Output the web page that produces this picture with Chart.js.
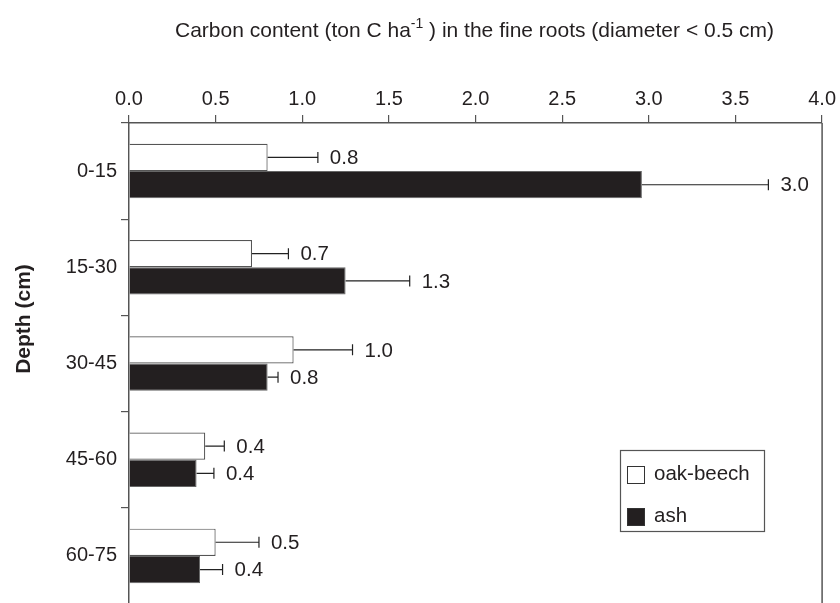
<!DOCTYPE html>
<html>
<head>
<meta charset="utf-8">
<script src="https://cdn.jsdelivr.net/npm/chart.js@4/dist/chart.umd.min.js"></script>
<style>
html,body{margin:0;padding:0;background:#fff;overflow:hidden;}
#c{display:block;}
</style>
</head>
<body>
<canvas id="c" width="840" height="620"></canvas>
<script>
// ---- data ----
const depths = ['0-15', '15-30', '30-45', '45-60', '60-75'];
const seriesNames = ['oak-beech', 'ash'];
const oakBeech = [0.80, 0.71, 0.95, 0.44, 0.50];
const ash = [2.96, 1.25, 0.80, 0.39, 0.41];
const oakBeechErr = [0.29, 0.21, 0.34, 0.11, 0.25];
const ashErr = [0.73, 0.37, 0.06, 0.10, 0.13];
const oakBeechLabels = ['0.8', '0.7', '1.0', '0.4', '0.5'];
const ashLabels = ['3.0', '1.3', '0.8', '0.4', '0.4'];
const xTicks = [0, 0.5, 1.0, 1.5, 2.0, 2.5, 3.0, 3.5, 4.0];
const titleMain = 'Carbon content (ton C ha';
const titleSup = '-1';
const titleRest = ' ) in the fine roots (diameter < 0.5 cm)';
const yTitle = 'Depth (cm)';

const FAM = '"Liberation Sans", Arial, Helvetica, sans-serif';
const INK = '#231f20';
const LINE = '#555';

const errs = [oakBeechErr, ashErr];
const valLabels = [oakBeechLabels, ashLabels];

const extras = {
  id: 'extras',
  afterDatasetsDraw(chart) {
    const ctx = chart.ctx;
    const xs = chart.scales.x;
    ctx.save();
    chart.data.datasets.forEach((ds, di) => {
      const meta = chart.getDatasetMeta(di);
      meta.data.forEach((el, i) => {
        const x0 = el.x;
        const x1 = xs.getPixelForValue(ds.data[i] + errs[di][i]);
        const y = el.y;
        ctx.strokeStyle = '#222';
        ctx.lineWidth = 1.2;
        ctx.beginPath();
        ctx.moveTo(x0, y); ctx.lineTo(x1, y);
        ctx.moveTo(x1, y - 5.5); ctx.lineTo(x1, y + 5.5);
        ctx.stroke();
        ctx.fillStyle = INK;
        ctx.font = '20.5px ' + FAM;
        ctx.textAlign = 'left';
        ctx.textBaseline = 'middle';
        ctx.fillText(valLabels[di][i], x1 + 12, y + 1);
      });
    });
    ctx.restore();
  },
  afterDraw(chart) {
    const ctx = chart.ctx;
    const a = chart.chartArea;
    ctx.save();
    // right frame line
    ctx.strokeStyle = LINE;
    ctx.lineWidth = 1.5;
    ctx.beginPath();
    ctx.moveTo(a.right, a.top);
    ctx.lineTo(a.right, a.bottom);
    ctx.stroke();

    // top title with superscript
    ctx.fillStyle = INK;
    ctx.textBaseline = 'alphabetic';
    ctx.textAlign = 'left';
    ctx.font = '21px ' + FAM;
    const w1 = ctx.measureText(titleMain).width;
    const w3 = ctx.measureText(titleRest).width;
    ctx.font = '14px ' + FAM;
    const w2 = ctx.measureText(titleSup).width;
    const total = w1 + w2 + w3;
    let tx = 474.5 - total / 2;
    const ty = 37;
    ctx.font = '21px ' + FAM;
    ctx.fillText(titleMain, tx, ty);
    ctx.font = '14px ' + FAM;
    ctx.fillText(titleSup, tx + w1, ty - 9);
    ctx.font = '21px ' + FAM;
    ctx.fillText(titleRest, tx + w1 + w2, ty);

    // y axis title
    ctx.save();
    ctx.translate(30, 319);
    ctx.rotate(-Math.PI / 2);
    ctx.font = 'bold 21px ' + FAM;
    ctx.textAlign = 'center';
    ctx.fillText(yTitle, 0, 0);
    ctx.restore();

    // legend
    ctx.strokeStyle = LINE;
    ctx.lineWidth = 1.2;
    ctx.strokeRect(620.5, 450.5, 144, 81);
    const items = [
      {y: 466, fill: '#fff'},
      {y: 508, fill: INK}
    ];
    items.forEach((it, k) => {
      ctx.fillStyle = it.fill;
      ctx.fillRect(627.5, it.y + 0.5, 17, 17);
      ctx.strokeStyle = '#333';
      ctx.lineWidth = 1;
      ctx.strokeRect(627.5, it.y + 0.5, 17, 17);
      ctx.fillStyle = INK;
      ctx.font = '20.5px ' + FAM;
      ctx.textBaseline = 'middle';
      ctx.textAlign = 'left';
      ctx.fillText(seriesNames[k], 654, it.y + 8.5);
    });
    ctx.restore();
  }
};

new Chart(document.getElementById('c'), {
  type: 'bar',
  data: {
    labels: depths,
    datasets: [
      {label: seriesNames[0], data: oakBeech, backgroundColor: '#ffffff', borderColor: '#555', borderWidth: 1.2,
       barPercentage: 1, categoryPercentage: 0.567},
      {label: seriesNames[1], data: ash, backgroundColor: INK, borderColor: '#666', borderWidth: 1,
       barPercentage: 1, categoryPercentage: 0.567}
    ]
  },
  options: {
    indexAxis: 'y',
    responsive: false,
    animation: false,
    devicePixelRatio: 1,
    layout: {padding: {left: 0, right: 15, top: 0, bottom: 13}},
    plugins: {legend: {display: false}, tooltip: {enabled: false}, title: {display: false}},
    scales: {
      x: {
        position: 'top', type: 'linear', min: 0, max: 4,
        afterBuildTicks: s => { s.ticks = xTicks.map(v => ({value: v})); },
        ticks: {callback: v => Number(v).toFixed(1), font: {size: 20, family: FAM}, color: INK, padding: 4, maxRotation: 0, autoSkip: false},
        grid: {drawOnChartArea: false, drawTicks: true, tickLength: 8, color: LINE, lineWidth: 1.2},
        border: {display: true, color: LINE, width: 1.5},
        afterFit: s => { s.height = 123; }
      },
      y: {
        type: 'category',
        ticks: {font: {size: 20, family: FAM}, color: INK, padding: 4},
        grid: {offset: true, drawOnChartArea: false, drawTicks: true, tickLength: 8, color: LINE, lineWidth: 1.2},
        border: {display: true, color: LINE, width: 1.5},
        afterFit: s => { s.width = 129; }
      }
    }
  },
  plugins: [extras]
});
</script>
</body>
</html>
